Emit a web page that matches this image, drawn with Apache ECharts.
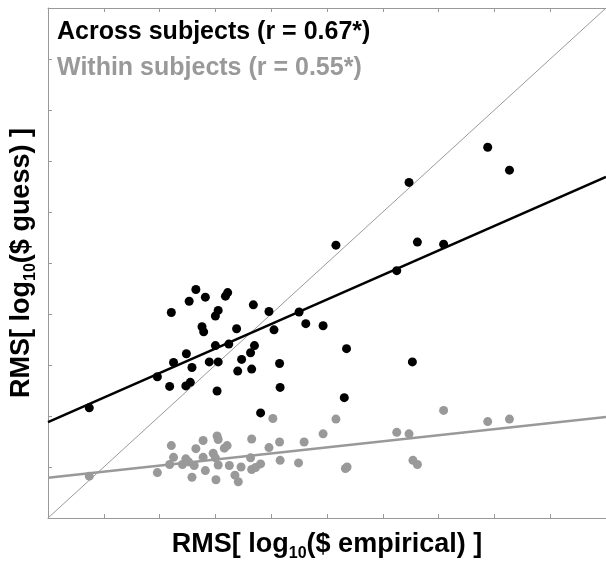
<!DOCTYPE html>
<html>
<head>
<meta charset="utf-8">
<script src="https://cdn.jsdelivr.net/npm/echarts@6/dist/echarts.min.js"></script>
<style>
  html, body { margin: 0; padding: 0; background: #fff; overflow: hidden; }
  #chart { width: 606px; height: 567px; }
</style>
</head>
<body>
<div id="chart"></div>
<script>
// across subjects (black dots)
var acrossX = [0.74, 1.96, 2.18, 2.21, 2.25, 2.47, 2.55, 2.48, 2.58, 2.53, 2.65, 2.82, 2.76, 2.79, 3.00, 3.05,
  3.18, 3.22, 3.00, 2.89, 3.05, 3.03, 3.24, 3.38, 3.40, 3.47, 3.65, 3.63, 3.70, 3.68, 3.81, 3.96,
  4.05, 4.15, 4.16, 4.50, 4.62, 4.93, 5.16, 5.35, 5.31, 6.25, 6.47, 6.53, 6.62, 7.09, 7.88, 8.27];
var acrossY = [2.16, 2.77, 2.58, 4.03, 3.05, 2.59, 2.66, 3.22, 2.95, 4.25, 4.48, 4.33, 3.75, 3.65, 3.96, 4.07,
  4.35, 4.42, 3.38, 3.06, 3.06, 2.49, 3.41, 3.71, 2.88, 3.11, 2.92, 3.24, 3.38, 4.18, 2.06, 4.05,
  3.69, 3.03, 2.56, 4.04, 3.81, 3.77, 5.35, 3.32, 2.36, 4.85, 6.58, 3.06, 5.41, 5.37, 7.27, 6.82];
// within subjects (gray dots)
var withinX = [0.74, 1.96, 2.18, 2.21, 2.25, 2.41, 2.47, 2.52, 2.58, 2.62, 2.65, 2.78, 2.78, 2.82, 2.96, 3.00,
  3.03, 3.05, 3.05, 3.01, 3.16, 3.21, 3.25, 3.35, 3.41, 3.46, 3.63, 3.65, 3.65, 3.72, 3.81, 3.96,
  4.03, 4.15, 4.16, 4.49, 4.59, 4.93, 5.16, 5.33, 5.36, 6.25, 6.47, 6.54, 6.62, 7.09, 7.88, 8.27];
var withinY = [0.82, 0.89, 1.05, 1.42, 1.19, 1.05, 1.16, 1.10, 0.80, 1.03, 1.36, 1.52, 1.19, 0.93, 1.27, 1.18,
  1.61, 1.54, 1.04, 0.75, 1.37, 1.42, 1.03, 0.84, 0.71, 1.00, 1.18, 1.55, 0.95, 0.99, 1.06, 1.38,
  1.95, 1.49, 1.13, 1.08, 1.49, 1.65, 1.94, 0.97, 1.00, 1.68, 1.65, 1.13, 1.05, 2.11, 1.89, 1.94];
// fitted lines, end points
var acrossFit = [[0, 1.88], [10, 6.69]];
var withinFit = [[0, 0.79], [10, 1.98]];
var identity = [[0, 0], [10, 10]];

var font = "'Liberation Sans', Arial, Helvetica, sans-serif";
var gray = '#999';

function pairs(xs, ys) {
  var out = [];
  for (var i = 0; i < xs.length; i++) out.push([xs[i], ys[i]]);
  return out;
}

var labelRich = {
  m: { fontSize: 27, fontWeight: 'bold', fontFamily: font, color: '#000', lineHeight: 35 },
  s: { fontSize: 16, fontWeight: 'bold', fontFamily: font, color: '#000', lineHeight: 16, verticalAlign: 'bottom' }
};

var axisCommon = {
  type: 'value', min: 0, max: 10, interval: 1,
  axisLine: { show: true, lineStyle: { color: gray, width: 1 } },
  axisTick: { show: true, inside: true, length: 4, lineStyle: { color: gray } },
  axisLabel: { show: false },
  splitLine: { show: false }
};

var myChart = echarts.init(document.getElementById('chart'), null, { width: 606, height: 567 });
var option = {
  animation: false,
  title: [
    { text: 'Across subjects (r = 0.67*)', left: 52, top: 15,
      textStyle: { fontSize: 25, fontWeight: 'bold', fontFamily: font, color: '#000' } },
    { text: 'Within subjects (r = 0.55*)', left: 52, top: 51,
      textStyle: { fontSize: 25, fontWeight: 'bold', fontFamily: font, color: gray } }
  ],
  grid: { left: 47.5, top: 8, width: 567, height: 518 },
  xAxis: [
    Object.assign({}, axisCommon, {
      position: 'bottom',
      name: '{m|RMS[ log}{s|10}{m|($ empirical) ]}',
      nameLocation: 'middle', nameGap: 9,
      nameTextStyle: { rich: labelRich }
    }),
    Object.assign({}, axisCommon, { position: 'top' })
  ],
  yAxis: [
    Object.assign({}, axisCommon, {
      position: 'left',
      name: '{m|RMS[ log}{s|10}{m|($ guess) ]}',
      nameLocation: 'middle', nameGap: 9,
      nameTextStyle: { rich: labelRich }
    })
  ],
  series: [
    { type: 'line', data: identity, symbol: 'none', silent: true,
      lineStyle: { color: gray, width: 1 }, z: 1 },
    { type: 'line', data: withinFit, symbol: 'none', silent: true,
      lineStyle: { color: gray, width: 2.5 }, z: 2 },
    { type: 'line', data: acrossFit, symbol: 'none', silent: true,
      lineStyle: { color: '#000', width: 2.5 }, z: 2 },
    { type: 'scatter', data: pairs(withinX, withinY), symbolSize: 9,
      itemStyle: { color: gray, opacity: 1 }, z: 3 },
    { type: 'scatter', data: pairs(acrossX, acrossY), symbolSize: 9,
      itemStyle: { color: '#000', opacity: 1 }, z: 3 }
  ]
};
myChart.setOption(option);
</script>
</body>
</html>
